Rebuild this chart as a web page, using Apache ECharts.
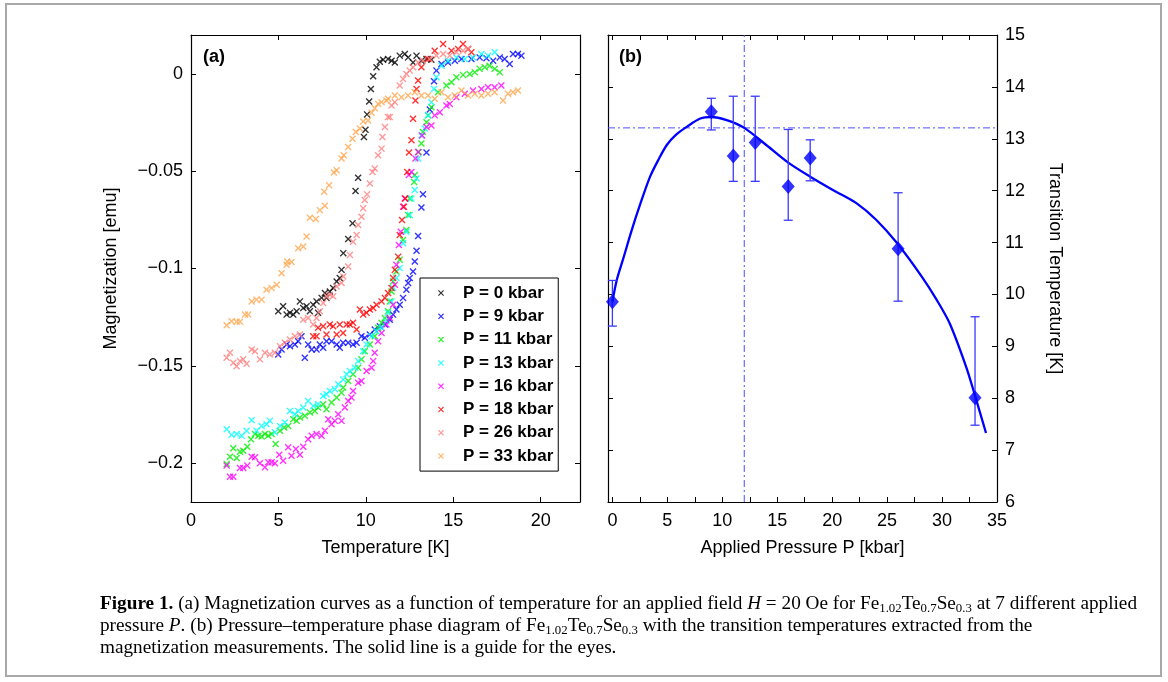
<!DOCTYPE html>
<html>
<head>
<meta charset="utf-8">
<script src="https://cdn.jsdelivr.net/npm/echarts@6/dist/echarts.min.js"></script>
<style>
html,body{margin:0;padding:0;background:#fff;}
#wrap{position:relative;width:1168px;height:682px;overflow:hidden;background:#fff;}
#chart{position:absolute;left:0;top:0;width:1168px;height:682px;}
#frame{position:absolute;left:5px;top:3px;width:1157px;height:674px;border:2px solid #a8a8a8;box-sizing:border-box;pointer-events:none;}
#caption{position:absolute;left:100px;top:592px;font-family:'Liberation Serif','DejaVu Serif',serif;font-size:18px;line-height:22px;color:#000;white-space:nowrap;transform-origin:0 0;}
#caption div{height:22px;}
#caption sub{font-size:12px;vertical-align:-3px;line-height:0;}
</style>
</head>
<body>
<div id="wrap">
  <div id="chart"></div>
  <div id="frame"></div>
  <div id="caption">
    <div><span id="l1"><b>Figure 1.</b> (a) Magnetization curves as a function of temperature for an applied field <i>H</i> = 20 Oe for Fe<sub>1.02</sub>Te<sub>0.7</sub>Se<sub>0.3</sub> at 7 different applied</span></div>
    <div><span>pressure <i>P</i>. (b) Pressure–temperature phase diagram of Fe<sub>1.02</sub>Te<sub>0.7</sub>Se<sub>0.3</sub> with the transition temperatures extracted from the</span></div>
    <div><span>magnetization measurements. The solid line is a guide for the eyes.</span></div>
  </div>
</div>
<script>
// ---------- Panel (a): magnetization vs temperature, [T (K), M (emu)] ----------
const seriesNames = ['P = 0 kbar','P = 9 kbar','P = 11 kbar','P = 13 kbar','P = 16 kbar','P = 18 kbar','P = 26 kbar','P = 33 kbar'];
const seriesColors = ['#000000','#0000ff','#00ee00','#00ffff','#ff00ff','#ff0000','#ff7f7f','#ffa64d'];

const magP0 = [[4.99,-0.1220],[5.27,-0.1194],[5.47,-0.1237],[5.66,-0.1228],[5.85,-0.1237],[6.04,-0.1220],[6.23,-0.1169],[6.42,-0.1203],[6.61,-0.1194],[6.80,-0.1220],[6.99,-0.1186],[7.18,-0.1169],[7.27,-0.1228],[7.47,-0.1151],[7.66,-0.1126],[7.75,-0.1151],[7.94,-0.1118],[8.13,-0.1100],[8.33,-0.1067],[8.51,-0.1049],[8.61,-0.1007],[8.71,-0.0921],[8.99,-0.0848],[9.24,-0.0768],[9.41,-0.0602],[9.56,-0.0534],[9.89,-0.0324],[9.98,-0.0287],[10.07,-0.0208],[10.19,-0.0142],[10.29,-0.0077],[10.42,-0.0012],[10.61,0.0034],[10.80,0.0063],[10.99,0.0073],[11.27,0.0077],[11.47,0.0068],[11.66,0.0059],[11.94,0.0094],[12.23,0.0102],[12.42,0.0085],[12.70,0.0059],[12.90,0.0094],[13.18,0.0068],[13.47,0.0077],[13.75,0.0073]];

const magP9 = [[4.99,-0.1442],[5.18,-0.1416],[5.47,-0.1391],[5.66,-0.1399],[5.94,-0.1391],[6.13,-0.1374],[6.32,-0.1348],[6.51,-0.1459],[6.70,-0.1391],[6.90,-0.1416],[7.18,-0.1416],[7.37,-0.1391],[7.56,-0.1407],[7.75,-0.1374],[8.04,-0.1374],[8.33,-0.1391],[8.51,-0.1407],[8.70,-0.1382],[8.99,-0.1382],[9.27,-0.1391],[9.47,-0.1382],[9.75,-0.1348],[9.94,-0.1356],[10.23,-0.1339],[10.51,-0.1314],[10.80,-0.1297],[11.09,-0.1288],[11.37,-0.1263],[11.56,-0.1237],[11.75,-0.1211],[11.94,-0.1186],[12.13,-0.1151],[12.32,-0.1109],[12.42,-0.1075],[12.51,-0.1049],[12.70,-0.1015],[12.80,-0.0964],[12.90,-0.0909],[12.99,-0.0833],[13.18,-0.0686],[13.27,-0.0618],[13.47,-0.0404],[13.66,-0.0183],[13.90,-0.0038],[14.04,0.0017],[14.33,0.0051],[14.70,0.0059],[15.09,0.0068],[15.47,0.0077],[16.04,0.0077],[16.51,0.0085],[16.90,0.0080],[17.28,0.0068],[17.66,0.0085],[17.94,0.0077],[18.23,0.0051],[18.42,0.0102],[18.70,0.0102],[18.90,0.0094]];

const magP11 = [[2.04,-0.2005],[2.23,-0.1967],[2.42,-0.1924],[2.61,-0.1974],[2.80,-0.1942],[2.99,-0.1937],[3.22,-0.1916],[3.43,-0.1877],[3.66,-0.1851],[3.85,-0.1860],[4.04,-0.1863],[4.23,-0.1851],[4.42,-0.1860],[4.61,-0.1851],[4.84,-0.1902],[5.09,-0.1834],[5.33,-0.1817],[5.56,-0.1809],[5.85,-0.1775],[6.04,-0.1783],[6.23,-0.1766],[6.51,-0.1757],[6.80,-0.1740],[7.08,-0.1732],[7.27,-0.1714],[7.56,-0.1698],[7.75,-0.1723],[8.04,-0.1689],[8.33,-0.1663],[8.61,-0.1638],[8.71,-0.1612],[8.99,-0.1578],[9.27,-0.1544],[9.56,-0.1510],[9.75,-0.1467],[9.94,-0.1425],[10.23,-0.1391],[10.51,-0.1348],[10.70,-0.1305],[10.90,-0.1279],[11.09,-0.1254],[11.27,-0.1220],[11.37,-0.1169],[11.47,-0.1118],[11.56,-0.1067],[11.75,-0.1015],[11.94,-0.0955],[12.13,-0.0853],[12.32,-0.0802],[12.42,-0.0725],[12.51,-0.0640],[12.76,-0.0555],[12.80,-0.0520],[13.03,-0.0401],[13.18,-0.0358],[13.27,-0.0299],[13.47,-0.0248],[13.56,-0.0213],[13.75,-0.0171],[14.13,-0.0094],[14.61,-0.0060],[14.90,-0.0043],[15.18,-0.0017],[15.56,-0.0005],[15.94,0.0000],[16.23,0.0008],[16.51,0.0026],[16.80,0.0034],[17.08,0.0042],[17.37,0.0026],[17.66,0.0008]];

const magP13 = [[2.04,-0.1826],[2.32,-0.1855],[2.61,-0.1851],[2.90,-0.1860],[3.18,-0.1834],[3.47,-0.1780],[3.75,-0.1834],[4.04,-0.1809],[4.32,-0.1800],[4.51,-0.1783],[4.80,-0.1842],[5.09,-0.1809],[5.37,-0.1791],[5.66,-0.1732],[5.94,-0.1749],[6.13,-0.1732],[6.42,-0.1714],[6.70,-0.1681],[6.99,-0.1706],[7.27,-0.1698],[7.56,-0.1655],[7.75,-0.1646],[7.94,-0.1630],[8.23,-0.1621],[8.42,-0.1595],[8.71,-0.1570],[8.90,-0.1544],[9.09,-0.1527],[9.37,-0.1510],[9.56,-0.1476],[9.85,-0.1425],[10.04,-0.1391],[10.33,-0.1348],[10.61,-0.1322],[10.90,-0.1305],[11.18,-0.1271],[11.27,-0.1228],[11.47,-0.1169],[11.56,-0.1100],[11.75,-0.1049],[11.94,-0.0998],[12.13,-0.0870],[12.32,-0.0811],[12.51,-0.0725],[12.61,-0.0640],[12.80,-0.0597],[12.90,-0.0537],[12.99,-0.0435],[13.18,-0.0316],[13.37,-0.0281],[13.56,-0.0213],[13.75,-0.0145],[13.90,-0.0077],[14.04,-0.0017],[14.33,0.0042],[14.70,0.0068],[15.18,0.0085],[15.66,0.0077],[16.13,0.0085],[16.61,0.0102],[16.99,0.0094],[17.37,0.0111]];

const magP16 = [[2.04,-0.2013],[2.23,-0.2070],[2.42,-0.2070],[2.80,-0.2025],[2.99,-0.2025],[3.22,-0.2013],[3.47,-0.1967],[3.66,-0.1970],[3.94,-0.2001],[4.23,-0.2022],[4.42,-0.1996],[4.61,-0.1996],[4.80,-0.2001],[5.05,-0.1957],[5.27,-0.1988],[5.56,-0.1919],[5.75,-0.1962],[6.00,-0.1928],[6.23,-0.1957],[6.42,-0.1916],[6.70,-0.1877],[6.90,-0.1860],[7.18,-0.1851],[7.47,-0.1860],[7.66,-0.1834],[7.85,-0.1775],[8.04,-0.1800],[8.23,-0.1783],[8.42,-0.1749],[8.61,-0.1783],[8.80,-0.1714],[8.99,-0.1681],[9.18,-0.1663],[9.27,-0.1630],[9.56,-0.1587],[9.75,-0.1578],[10.04,-0.1527],[10.33,-0.1510],[10.42,-0.1476],[10.51,-0.1433],[10.70,-0.1374],[10.90,-0.1331],[11.18,-0.1288],[11.37,-0.1254],[11.56,-0.1186],[11.66,-0.1083],[11.75,-0.0981],[11.89,-0.0879],[12.00,-0.0811],[12.13,-0.0683],[12.23,-0.0640],[12.46,-0.0520],[12.61,-0.0504],[12.84,-0.0435],[12.99,-0.0401],[13.22,-0.0316],[13.47,-0.0273],[13.75,-0.0265],[13.94,-0.0213],[14.23,-0.0197],[14.61,-0.0162],[14.80,-0.0154],[15.18,-0.0120],[15.66,-0.0102],[16.13,-0.0085],[16.61,-0.0077],[16.99,-0.0069],[17.37,-0.0069],[17.75,-0.0060]];

const magP18 = [[6.99,-0.1348],[7.18,-0.1348],[7.27,-0.1305],[7.56,-0.1297],[7.75,-0.1339],[7.94,-0.1288],[8.13,-0.1297],[8.33,-0.1339],[8.51,-0.1288],[8.70,-0.1331],[8.90,-0.1288],[9.09,-0.1288],[9.27,-0.1279],[9.47,-0.1314],[9.66,-0.1211],[9.85,-0.1237],[10.04,-0.1228],[10.23,-0.1211],[10.42,-0.1203],[10.61,-0.1186],[10.90,-0.1169],[11.09,-0.1151],[11.27,-0.1126],[11.47,-0.1100],[11.56,-0.1049],[11.66,-0.1007],[11.85,-0.0939],[11.94,-0.0828],[12.07,-0.0751],[12.18,-0.0683],[12.26,-0.0640],[12.37,-0.0504],[12.47,-0.0404],[12.61,-0.0341],[12.70,-0.0230],[12.84,-0.0137],[12.90,-0.0077],[12.99,-0.0034],[13.18,0.0034],[13.56,0.0077],[13.94,0.0119],[14.42,0.0154],[14.90,0.0119],[15.28,0.0128],[15.56,0.0154],[15.85,0.0128],[16.04,0.0111]];

const magP26 = [[2.04,-0.1459],[2.23,-0.1433],[2.42,-0.1484],[2.61,-0.1502],[2.80,-0.1476],[2.99,-0.1467],[3.18,-0.1489],[3.47,-0.1416],[3.66,-0.1425],[3.94,-0.1467],[4.23,-0.1433],[4.51,-0.1442],[4.80,-0.1433],[5.09,-0.1399],[5.37,-0.1382],[5.66,-0.1365],[5.94,-0.1348],[6.23,-0.1339],[6.42,-0.1263],[6.70,-0.1254],[6.99,-0.1288],[7.18,-0.1254],[7.37,-0.1220],[7.56,-0.1177],[7.75,-0.1143],[7.94,-0.1135],[8.13,-0.1143],[8.33,-0.1092],[8.61,-0.1075],[8.71,-0.1041],[8.99,-0.0990],[9.09,-0.0930],[9.27,-0.0862],[9.47,-0.0828],[9.56,-0.0776],[9.75,-0.0734],[9.85,-0.0691],[9.94,-0.0648],[10.07,-0.0619],[10.23,-0.0563],[10.38,-0.0504],[10.51,-0.0486],[10.70,-0.0418],[10.90,-0.0384],[10.95,-0.0324],[11.09,-0.0273],[11.27,-0.0222],[11.37,-0.0222],[11.47,-0.0162],[11.66,-0.0145],[11.94,-0.0060],[12.13,-0.0026],[12.32,0.0000],[12.51,0.0017],[12.70,0.0034],[12.99,0.0059],[13.27,0.0068],[13.66,0.0077],[14.04,0.0094],[14.42,0.0102],[14.80,0.0094],[15.18,0.0111],[15.56,0.0119],[15.85,0.0128]];

const magP33 = [[2.04,-0.1292],[2.32,-0.1271],[2.61,-0.1274],[2.80,-0.1274],[3.09,-0.1237],[3.27,-0.1237],[3.47,-0.1169],[3.75,-0.1160],[4.04,-0.1160],[4.32,-0.1109],[4.61,-0.1100],[4.90,-0.1083],[5.18,-0.1024],[5.47,-0.0981],[5.50,-0.0964],[5.75,-0.0967],[6.13,-0.0896],[6.42,-0.0887],[6.61,-0.0836],[6.80,-0.0739],[7.14,-0.0746],[7.37,-0.0700],[7.66,-0.0677],[7.62,-0.0606],[7.90,-0.0572],[8.17,-0.0507],[8.33,-0.0495],[8.61,-0.0435],[8.74,-0.0418],[8.99,-0.0376],[9.24,-0.0333],[9.43,-0.0299],[9.66,-0.0281],[9.85,-0.0244],[10.13,-0.0239],[10.33,-0.0200],[10.51,-0.0176],[10.70,-0.0154],[10.90,-0.0145],[11.18,-0.0137],[11.27,-0.0128],[11.66,-0.0111],[12.04,-0.0120],[12.42,-0.0111],[12.80,-0.0094],[13.18,-0.0111],[13.56,-0.0111],[13.94,-0.0128],[14.33,-0.0094],[14.70,-0.0120],[15.09,-0.0111],[15.47,-0.0085],[15.85,-0.0111],[16.23,-0.0102],[16.61,-0.0111],[16.99,-0.0102],[17.37,-0.0094],[17.85,-0.0137],[18.13,-0.0102],[18.42,-0.0094],[18.70,-0.0085]];

const magData = [magP0, magP9, magP11, magP13, magP16, magP18, magP26, magP33];

const tempTicks = [0, 5, 10, 15, 20];
const magTicks = [-0.2, -0.15, -0.1, -0.05, 0];

// ---------- Panel (b): transition temperature vs pressure ----------
const pressures = [0, 9, 11, 13, 16, 18, 26, 33];
const transT   = [9.86, 13.52, 12.67, 12.93, 12.08, 12.63, 10.88, 8.01];
const errLow   = [9.39, 13.17, 12.18, 12.18, 11.43, 12.19, 9.87, 7.48];
const errHigh  = [10.27, 13.78, 13.82, 13.82, 13.18, 12.98, 11.96, 9.57];

const guideP = [0, 0.4, 1, 1.76, 2.5, 3.43, 4.2, 4.95, 5.8, 6.76, 8, 9, 10.4, 12, 14, 16, 18, 20.1, 22.2, 24, 25.9, 28.2, 29.5, 30.7, 32.2, 33, 34];
const guideT = [9.86, 10.28, 10.7, 11.24, 11.72, 12.27, 12.6, 12.88, 13.08, 13.23, 13.39, 13.42, 13.36, 13.21, 12.88, 12.54, 12.27, 12.01, 11.76, 11.44, 10.99, 10.33, 9.9, 9.44, 8.6, 8.05, 7.33];

const crossP = 12;      // vertical dash-dot line
const crossT = 13.21;   // horizontal dash-dot line

const pressLabelTicks = [0, 5, 10, 15, 20, 25, 30, 35];
const pressMinorTicks = [0, 2.5, 5, 7.5, 10, 12.5, 15, 17.5, 20, 22.5, 25, 27.5, 30, 32.5, 35];

// ---------- chart ----------
const FONT = "'Liberation Sans', Arial, Helvetica, sans-serif";
const crossSymbol = 'path://M0,1.4L1.4,0L5,3.6L8.6,0L10,1.4L6.4,5L10,8.6L8.6,10L5,6.4L1.4,10L0,8.6L3.6,5Z';

const axisLine = {show: true, onZero: false, lineStyle: {color: '#000', width: 1.2}};
const tickIn = (vals) => ({show: true, inside: true, length: 5, lineStyle: {color: '#000', width: 1}, customValues: vals});
const lbl = {color: '#000', fontSize: 18, fontFamily: FONT};

const X_MIN_A = 0, X_MAX_A = 22.25, Y_MIN_A = -0.22, Y_MAX_A = 0.02;
const X_MIN_B = -0.4, X_MAX_B = 35, Y_MIN_B = 6, Y_MAX_B = 15;

const fmtMag = v => v === 0 ? '0' : (v < 0 ? '\u2212' : '') + String(parseFloat(Math.abs(v).toFixed(2)));

const option = {
  backgroundColor: '#fff',
  animation: false,
  grid: [
    {left: 191, top: 35, width: 389, height: 467},
    {left: 608, top: 35, width: 389, height: 467}
  ],
  xAxis: [
    {gridIndex: 0, type: 'value', position: 'bottom', min: X_MIN_A, max: X_MAX_A,
     axisLine, axisTick: tickIn(tempTicks), splitLine: {show: false},
     axisLabel: Object.assign({margin: 10, customValues: tempTicks}, lbl),
     name: 'Temperature [K]', nameLocation: 'middle', nameGap: 37,
     nameTextStyle: {color: '#000', fontSize: 18, fontFamily: FONT}},
    {gridIndex: 0, type: 'value', position: 'top', min: X_MIN_A, max: X_MAX_A,
     axisLine, axisTick: tickIn(tempTicks), splitLine: {show: false}, axisLabel: {show: false}},
    {gridIndex: 1, type: 'value', position: 'bottom', min: X_MIN_B, max: X_MAX_B,
     axisLine, axisTick: tickIn(pressMinorTicks), splitLine: {show: false},
     axisLabel: Object.assign({margin: 10, customValues: pressLabelTicks}, lbl),
     name: 'Applied Pressure P [kbar]', nameLocation: 'middle', nameGap: 37,
     nameTextStyle: {color: '#000', fontSize: 18, fontFamily: FONT}},
    {gridIndex: 1, type: 'value', position: 'top', min: X_MIN_B, max: X_MAX_B,
     axisLine, axisTick: tickIn(pressMinorTicks), splitLine: {show: false}, axisLabel: {show: false}}
  ],
  yAxis: [
    {gridIndex: 0, type: 'value', position: 'left', min: Y_MIN_A, max: Y_MAX_A,
     axisLine, axisTick: tickIn(magTicks), splitLine: {show: false},
     axisLabel: Object.assign({margin: 8, customValues: magTicks, formatter: fmtMag}, lbl),
     name: 'Magnetization [emu]', nameLocation: 'middle', nameGap: 71, nameRotate: 90,
     nameTextStyle: {color: '#000', fontSize: 18, fontFamily: FONT}},
    {gridIndex: 0, type: 'value', position: 'right', min: Y_MIN_A, max: Y_MAX_A,
     axisLine, axisTick: tickIn(magTicks), splitLine: {show: false}, axisLabel: {show: false}},
    {gridIndex: 1, type: 'value', position: 'right', min: Y_MIN_B, max: Y_MAX_B, interval: 1,
     axisLine, axisTick: {show: true, inside: true, length: 5, lineStyle: {color: '#000', width: 1}},
     splitLine: {show: false},
     axisLabel: Object.assign({margin: 8}, lbl),
     name: 'Transition Temperature [K]', nameLocation: 'middle', nameGap: 49, nameRotate: -90,
     nameTextStyle: {color: '#000', fontSize: 18, fontFamily: FONT}},
    {gridIndex: 1, type: 'value', position: 'left', min: Y_MIN_B, max: Y_MAX_B, interval: 1,
     axisLine, axisTick: {show: true, inside: true, length: 5, lineStyle: {color: '#000', width: 1}},
     splitLine: {show: false}, axisLabel: {show: false}}
  ],
  legend: {
    data: seriesNames,
    orient: 'vertical', left: 420, top: 278,
    itemWidth: 34, itemHeight: 6, itemGap: 3.3,
    padding: [5, 5, 5, 18],
    borderColor: '#000', borderWidth: 1, backgroundColor: '#fff',
    selectedMode: false,
    textStyle: {color: '#000', fontSize: 17, fontWeight: 'bold', fontFamily: FONT, lineHeight: 20}
  },
  graphic: [
    {type: 'text', left: 203, top: 48, style: {text: '(a)', fill: '#000', font: 'bold 18px ' + FONT}},
    {type: 'text', left: 619, top: 48, style: {text: '(b)', fill: '#000', font: 'bold 18px ' + FONT}}
  ],
  series: []
};

magData.forEach((d, i) => {
  option.series.push({
    name: seriesNames[i], type: 'scatter', xAxisIndex: 0, yAxisIndex: 0,
    data: d, symbol: crossSymbol, symbolSize: 7,
    itemStyle: {color: seriesColors[i]}, z: 2 + i, silent: true
  });
});

// dash-dot guide lines
option.series.push({
  type: 'line', xAxisIndex: 2, yAxisIndex: 2, data: [[crossP, Y_MIN_B], [crossP, Y_MAX_B]],
  showSymbol: false, symbol: 'none', silent: true,
  lineStyle: {color: '#4d4dff', width: 1, type: [7, 3, 2, 3]}, z: 2
});
option.series.push({
  type: 'line', xAxisIndex: 2, yAxisIndex: 2, data: [[X_MIN_B, crossT], [X_MAX_B, crossT]],
  showSymbol: false, symbol: 'none', silent: true,
  lineStyle: {color: '#4d4dff', width: 1, type: [7, 3, 2, 3]}, z: 2
});
// guide curve
option.series.push({
  type: 'line', xAxisIndex: 2, yAxisIndex: 2, smooth: 0.3,
  data: guideP.map((p, i) => [p, guideT[i]]),
  showSymbol: false, symbol: 'none', silent: true,
  lineStyle: {color: '#0000ff', width: 2.3}, z: 3
});
// error bars
option.series.push({
  type: 'custom', xAxisIndex: 2, yAxisIndex: 2, silent: true, z: 4,
  data: pressures.map((p, i) => [p, errLow[i], errHigh[i]]),
  encode: {x: 0, y: [1, 2]},
  renderItem: function (params, api) {
    const lo = api.coord([api.value(0), api.value(1)]);
    const hi = api.coord([api.value(0), api.value(2)]);
    const hw = 4.5;
    const style = {stroke: '#3a3aff', lineWidth: 1.3};
    return {type: 'group', children: [
      {type: 'line', shape: {x1: lo[0], y1: lo[1], x2: hi[0], y2: hi[1]}, style: style},
      {type: 'line', shape: {x1: lo[0] - hw, y1: lo[1], x2: lo[0] + hw, y2: lo[1]}, style: style},
      {type: 'line', shape: {x1: hi[0] - hw, y1: hi[1], x2: hi[0] + hw, y2: hi[1]}, style: style}
    ]};
  }
});
// diamonds
option.series.push({
  type: 'scatter', xAxisIndex: 2, yAxisIndex: 2, silent: true, z: 5,
  data: pressures.map((p, i) => [p, transT[i]]),
  symbol: 'diamond', symbolSize: [13, 15],
  itemStyle: {color: '#0000ff'}
});

const chart = echarts.init(document.getElementById('chart'), null, {renderer: 'canvas'});
chart.setOption(option);

// fit caption width to the reference line length
(function fitCaption() {
  const cap = document.getElementById('caption');
  const l1 = document.getElementById('l1');
  const w = l1.getBoundingClientRect().width;
  if (w > 0) cap.style.transform = 'scaleX(' + (1037 / w) + ')';
})();
</script>
</body>
</html>
